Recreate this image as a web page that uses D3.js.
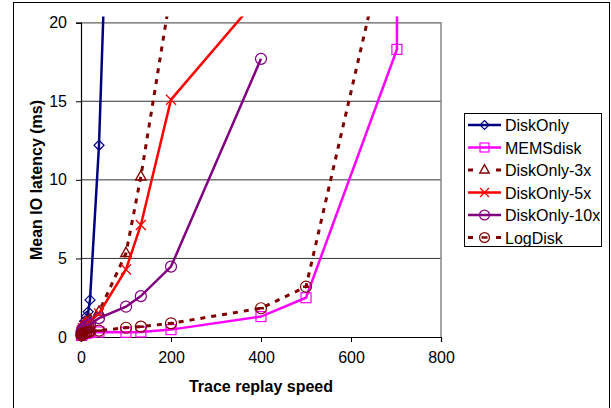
<!DOCTYPE html>
<html><head><meta charset="utf-8">
<script src="https://cdn.jsdelivr.net/npm/d3@7"></script>
<style>body{margin:0;background:#fff;} svg{display:block;font-family:"Liberation Sans",Arial,sans-serif;}</style>
</head><body>
<svg id="c" width="611" height="408"></svg>
<script>
const xTicks = [0, 200, 400, 600, 800];
const yTicks = [0, 5, 10, 15, 20];
const seriesNames = ["DiskOnly", "MEMSdisk", "DiskOnly-3x", "DiskOnly-5x", "DiskOnly-10x", "LogDisk"];

const diskOnlyX = [1, 2, 4, 8, 12, 16, 20, 40, 50];
const diskOnlyY = [0.35, 0.45, 0.7, 1.0, 1.3, 1.6, 2.36, 12.2, 20.8];
const memsX = [1, 2, 4, 8, 12, 16, 20, 40, 100, 133, 200, 400, 500, 702, 703];
const memsY = [0.1, 0.15, 0.2, 0.22, 0.25, 0.27, 0.3, 0.32, 0.3, 0.32, 0.47, 1.3, 2.5, 18.3, 30];
const d3xX = [1, 2, 4, 8, 12, 16, 20, 40, 100, 133, 200];
const d3xY = [0.3, 0.4, 0.6, 0.8, 0.9, 1.0, 1.1, 1.6, 5.33, 10.2, 22];
const d5xX = [1, 2, 4, 8, 12, 16, 20, 40, 100, 133, 200, 400];
const d5xY = [0.3, 0.4, 0.55, 0.7, 0.8, 0.9, 1.0, 1.5, 4.3, 7.13, 15.1, 21.8];
const d10xX = [1, 2, 4, 8, 12, 16, 20, 40, 100, 133, 200, 400];
const d10xY = [0.3, 0.4, 0.5, 0.6, 0.7, 0.75, 0.8, 1.2, 1.93, 2.6, 4.48, 17.7];
const logX = [1, 2, 4, 8, 12, 16, 20, 40, 100, 133, 200, 400, 500, 700];
const logY = [0.1, 0.15, 0.2, 0.25, 0.3, 0.3, 0.35, 0.4, 0.59, 0.66, 0.87, 1.83, 3.2, 28];

const series = [
  {name: seriesNames[0], xs: diskOnlyX, ys: diskOnlyY, color: "#000080", dash: null, marker: "diamond"},
  {name: seriesNames[1], xs: memsX, ys: memsY, color: "#FF00FF", dash: null, marker: "square"},
  {name: seriesNames[2], xs: d3xX, ys: d3xY, color: "#800000", dash: "5,6", marker: "triangle"},
  {name: seriesNames[3], xs: d5xX, ys: d5xY, color: "#FF0000", dash: null, marker: "x"},
  {name: seriesNames[4], xs: d10xX, ys: d10xY, color: "#800080", dash: null, marker: "circle"},
  {name: seriesNames[5], xs: logX, ys: logY, color: "#800000", dash: "5,6", marker: "circleDash"}
];

const svg = d3.select("#c");
const L = 81, R = 441, T = 22.7, B = 337;
const x = d3.scaleLinear().domain([0, 800]).range([L, R]);
const y = d3.scaleLinear().domain([0, 20]).range([B, T]);

// outer border
svg.append("rect").attr("x", 13.5).attr("y", 2.5).attr("width", 596).attr("height", 420)
  .attr("fill", "none").attr("stroke", "#000").attr("stroke-width", 1);

// gridlines
svg.append("g").selectAll("line").data(yTicks.filter(d => d > 0)).join("line")
  .attr("x1", L).attr("x2", R).attr("y1", d => y(d)).attr("y2", d => y(d))
  .attr("stroke", "#333").attr("stroke-width", 1);
// plot area border (top/right)
svg.append("path").attr("d", `M${L},${T}H${R}V${B}`).attr("fill", "none")
  .attr("stroke", "#888").attr("stroke-width", 1.5);

// axes
const xAxis = d3.axisBottom(x).tickValues(xTicks).tickSize(5).tickPadding(10);
const gx = svg.append("g").attr("transform", `translate(0,${B})`).call(xAxis);
const yAxis = d3.axisLeft(y).tickValues(yTicks).tickSize(5).tickPadding(9);
const gy = svg.append("g").attr("transform", `translate(${L},0)`).call(yAxis);
[gx, gy].forEach(g => {
  g.select(".domain").attr("stroke", "#000").attr("stroke-width", 1.2);
  g.selectAll(".tick line").attr("stroke", "#000");
  g.selectAll(".tick text").attr("font-size", 16).attr("fill", "#000")
    .attr("font-family", "Liberation Sans, Arial, sans-serif");
});

// titles
svg.append("text").attr("x", 261).attr("y", 392).attr("text-anchor", "middle")
  .attr("font-size", 16).attr("font-weight", "bold").text("Trace replay speed");
svg.append("text").attr("transform", "translate(42,180) rotate(-90)").attr("text-anchor", "middle")
  .attr("font-size", 16).attr("font-weight", "bold").text("Mean IO latency (ms)");

// clip
svg.append("clipPath").attr("id", "clip").append("rect")
  .attr("x", 0).attr("y", 16.5).attr("width", 611).attr("height", 400);

function drawMarker(g, type, cx, cy, color, scale) {
  const s = scale || 1;
  if (type === "diamond") {
    const r = 5 * s;
    g.append("path").attr("d", `M${cx},${cy - r}L${cx + r},${cy}L${cx},${cy + r}L${cx - r},${cy}Z`)
      .attr("fill", "none").attr("stroke", color).attr("stroke-width", 1.2);
  } else if (type === "square") {
    const r = 5 * s;
    g.append("rect").attr("x", cx - r).attr("y", cy - r).attr("width", 2 * r).attr("height", 2 * r)
      .attr("fill", "none").attr("stroke", color).attr("stroke-width", 1.2);
  } else if (type === "triangle") {
    const r = 6 * s;
    g.append("path").attr("d", `M${cx},${cy - r}L${cx + r * 0.87},${cy + r * 0.55}L${cx - r * 0.87},${cy + r * 0.55}Z`)
      .attr("fill", "none").attr("stroke", color).attr("stroke-width", 1.4);
  } else if (type === "x") {
    const r = 5 * s;
    g.append("path").attr("d", `M${cx - r},${cy - r}L${cx + r},${cy + r}M${cx - r},${cy + r}L${cx + r},${cy - r}`)
      .attr("fill", "none").attr("stroke", color).attr("stroke-width", 1.3);
  } else if (type === "circle") {
    g.append("circle").attr("cx", cx).attr("cy", cy).attr("r", 5.5 * s)
      .attr("fill", "none").attr("stroke", color).attr("stroke-width", 1.2);
  } else if (type === "circleDash") {
    g.append("circle").attr("cx", cx).attr("cy", cy).attr("r", 5.5 * s)
      .attr("fill", "none").attr("stroke", color).attr("stroke-width", 1.2);
    g.append("line").attr("x1", cx - 3).attr("x2", cx + 3).attr("y1", cy).attr("y2", cy)
      .attr("stroke", color).attr("stroke-width", 2.5);
  }
}

const line = d3.line().x(d => x(d[0])).y(d => y(d[1]));
const plot = svg.append("g");
series.forEach(s => {
  const pts = s.xs.map((v, i) => [v, s.ys[i]]);
  const g = plot.append("g");
  g.append("path").attr("d", line(pts)).attr("clip-path", "url(#clip)")
    .attr("fill", "none").attr("stroke", s.color)
    .attr("stroke-width", s.dash ? 3 : 2.5)
    .attr("stroke-dasharray", s.dash);
  pts.filter(p => p[1] <= 20).forEach(p => drawMarker(g, s.marker, x(p[0]), y(p[1]), s.color));
});

// legend
const lg = svg.append("g");
lg.append("rect").attr("x", 464.5).attr("y", 113.5).attr("width", 137).attr("height", 133)
  .attr("fill", "#fff").attr("stroke", "#000").attr("stroke-width", 1);
series.forEach((s, i) => {
  const yy = 125 + i * 22.5;
  const g = lg.append("g");
  if (s.dash) {
    g.append("line").attr("x1", 468).attr("x2", 473).attr("y1", yy).attr("y2", yy)
      .attr("stroke", s.color).attr("stroke-width", 3);
    g.append("line").attr("x1", 496).attr("x2", 501).attr("y1", yy).attr("y2", yy)
      .attr("stroke", s.color).attr("stroke-width", 3);
  } else {
    g.append("line").attr("x1", 468).attr("x2", 501).attr("y1", yy).attr("y2", yy)
      .attr("stroke", s.color).attr("stroke-width", 2.5);
  }
  drawMarker(g, s.marker, 484.5, yy, s.color, 0.9);
  g.append("text").attr("x", 505).attr("y", yy + 6).attr("font-size", 16).attr("fill", "#000").text(s.name);
});
</script>
</body></html>
